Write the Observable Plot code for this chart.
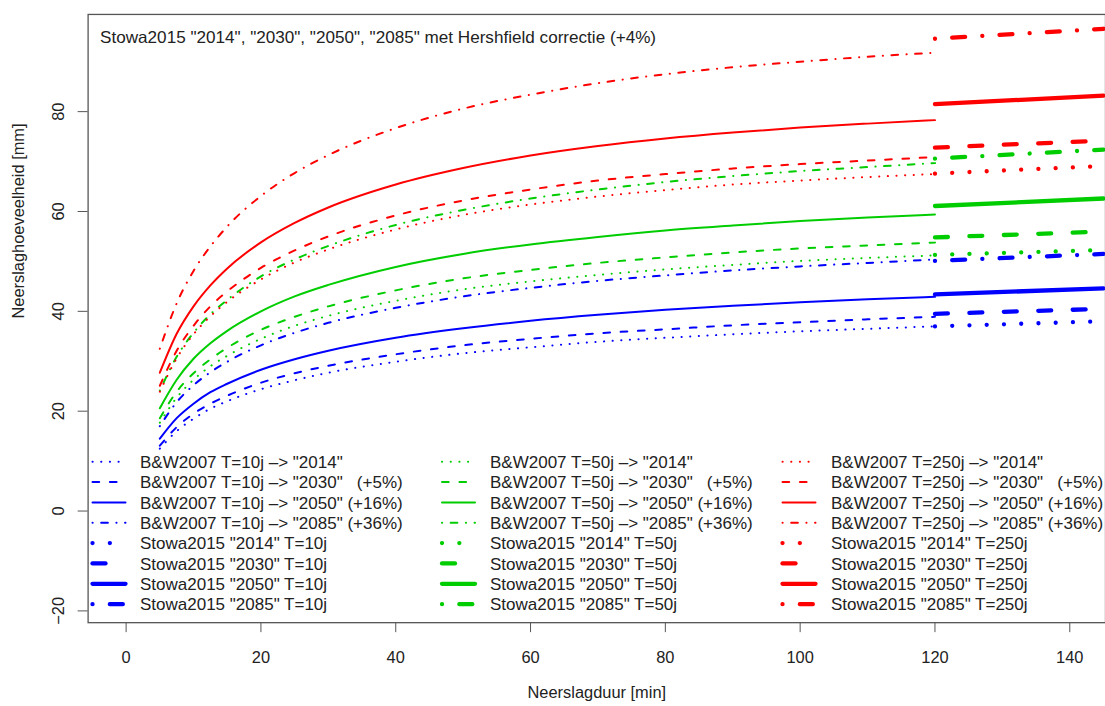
<!DOCTYPE html>
<html><head><meta charset="utf-8">
<script src="https://cdn.jsdelivr.net/npm/d3@7"></script>
<script src="https://cdn.jsdelivr.net/npm/@observablehq/plot@0.6"></script>
<style>
html,body{margin:0;padding:0;background:#fff;overflow:hidden;width:1105px;height:706px}
#wrap{position:relative;width:1105px;height:706px;overflow:hidden}
#wrap svg{display:block}
#legend{position:absolute;left:0;top:0;pointer-events:none}
</style></head><body><div id="wrap"></div>
<script>
// ---- data ----
const duration = [5, 7.5, 10, 12.5, 15, 20, 25, 30, 40, 50, 60, 70, 80, 90, 100, 110, 120];
const bw10_2014 = [12.5, 16.0, 18.5, 20.5, 22.0, 24.4, 26.2, 27.7, 29.9, 31.6, 32.8, 33.9, 34.7, 35.4, 36.0, 36.5, 37.0];
const bw10_2030 = [13.1, 16.8, 19.5, 21.5, 23.1, 25.7, 27.6, 29.1, 31.4, 33.2, 34.5, 35.6, 36.4, 37.2, 37.8, 38.4, 38.9];
const bw10_2050 = [14.5, 18.6, 21.5, 23.8, 25.5, 28.3, 30.4, 32.1, 34.7, 36.6, 38.1, 39.3, 40.3, 41.1, 41.8, 42.4, 42.9];
const bw10_2085 = [17.0, 21.8, 25.2, 27.8, 29.9, 33.2, 35.7, 37.7, 40.7, 43.0, 44.7, 46.1, 47.2, 48.2, 49.0, 49.7, 50.4];
const bw50_2014 = [17.7, 22.7, 26.3, 29.0, 31.1, 34.5, 37.1, 39.1, 42.1, 44.4, 46.0, 47.3, 48.4, 49.3, 50.1, 50.7, 51.2];
const bw50_2030 = [18.6, 23.9, 27.6, 30.4, 32.7, 36.3, 38.9, 41.0, 44.2, 46.6, 48.3, 49.7, 50.8, 51.8, 52.6, 53.2, 53.8];
const bw50_2050 = [20.6, 26.3, 30.5, 33.6, 36.1, 40.0, 43.0, 45.3, 48.9, 51.5, 53.4, 54.9, 56.2, 57.2, 58.1, 58.8, 59.4];
const bw50_2085 = [24.1, 30.9, 35.7, 39.4, 42.3, 47.0, 50.4, 53.1, 57.3, 60.3, 62.6, 64.4, 65.9, 67.1, 68.1, 68.9, 69.7];
const bw250_2014 = [23.9, 30.6, 35.4, 39.0, 41.9, 46.4, 49.8, 52.4, 56.4, 59.3, 61.4, 63.0, 64.3, 65.4, 66.2, 66.9, 67.5];
const bw250_2030 = [25.1, 32.1, 37.1, 41.0, 44.0, 48.7, 52.2, 55.0, 59.2, 62.2, 64.4, 66.2, 67.5, 68.6, 69.5, 70.2, 70.9];
const bw250_2050 = [27.7, 35.5, 41.0, 45.2, 48.6, 53.8, 57.7, 60.8, 65.4, 68.7, 71.2, 73.1, 74.6, 75.8, 76.8, 77.6, 78.3];
const bw250_2085 = [32.5, 41.6, 48.1, 53.0, 57.0, 63.1, 67.7, 71.3, 76.7, 80.6, 83.4, 85.7, 87.5, 88.9, 90.0, 91.0, 91.8];

const stowaDuration = [120, 145];
const stowa10_2014 = [37.0, 38.0];
const stowa10_2030 = [39.5, 40.5];
const stowa10_2050 = [43.4, 44.6];
const stowa10_2085 = [50.1, 51.5];
const stowa50_2014 = [51.3, 52.3];
const stowa50_2030 = [54.8, 56.0];
const stowa50_2050 = [61.1, 62.6];
const stowa50_2085 = [70.6, 72.4];
const stowa250_2014 = [67.6, 69.1];
const stowa250_2030 = [72.8, 74.2];
const stowa250_2050 = [81.5, 83.2];
const stowa250_2085 = [94.6, 96.6];

const xTicks = [0, 20, 40, 60, 80, 100, 120, 140];
const yTicks = [-20, 0, 20, 40, 60, 80];

const legend10 = ['B&W2007 T=10j –> "2014"', 'B&W2007 T=10j –> "2030"   (+5%)', 'B&W2007 T=10j –> "2050" (+16%)', 'B&W2007 T=10j –> "2085" (+36%)',
  'Stowa2015 "2014" T=10j', 'Stowa2015 "2030" T=10j', 'Stowa2015 "2050" T=10j', 'Stowa2015 "2085" T=10j'];
const legend50 = ['B&W2007 T=50j –> "2014"', 'B&W2007 T=50j –> "2030"   (+5%)', 'B&W2007 T=50j –> "2050" (+16%)', 'B&W2007 T=50j –> "2085" (+36%)',
  'Stowa2015 "2014" T=50j', 'Stowa2015 "2030" T=50j', 'Stowa2015 "2050" T=50j', 'Stowa2015 "2085" T=50j'];
const legend250 = ['B&W2007 T=250j –> "2014"', 'B&W2007 T=250j –> "2030"   (+5%)', 'B&W2007 T=250j –> "2050" (+16%)', 'B&W2007 T=250j –> "2085" (+36%)',
  'Stowa2015 "2014" T=250j', 'Stowa2015 "2030" T=250j', 'Stowa2015 "2050" T=250j', 'Stowa2015 "2085" T=250j'];

const title = 'Stowa2015 "2014", "2030", "2050", "2085" met Hershfield correctie (+4%)';
const xLabel = "Neerslagduur [min]";
const yLabel = "Neerslaghoeveelheid [mm]";

// ---- styles ----
const BLUE = "#0000ff", GREEN = "#00cd00", RED = "#ff0000";
const THIN = 2, THICK = 4.3;
const FONT = "'Liberation Sans', Arial, Helvetica, sans-serif";
const thinDash = {dotted: "0.17,8.5", dashed: "6.7,10.7", solid: null, dotdash: "0.17,8.5,6.7,8.5"};
const thickDash = {dotted: "0.03,17.3", dashed: "13,21.6", solid: null, dotdash: "0.03,17.3,13,17.3"};
const scen = ["dotted", "dashed", "solid", "dotdash"];

const groups = [
  {color: BLUE, bw: [bw10_2014, bw10_2030, bw10_2050, bw10_2085], st: [stowa10_2014, stowa10_2030, stowa10_2050, stowa10_2085], labels: legend10},
  {color: GREEN, bw: [bw50_2014, bw50_2030, bw50_2050, bw50_2085], st: [stowa50_2014, stowa50_2030, stowa50_2050, stowa50_2085], labels: legend50},
  {color: RED, bw: [bw250_2014, bw250_2030, bw250_2050, bw250_2085], st: [stowa250_2014, stowa250_2030, stowa250_2050, stowa250_2085], labels: legend250}
];

const lineMarks = [];
for (const g of groups) {
  g.bw.forEach((vals, i) => {
    const data = duration.map((d, k) => ({d, v: vals[k]}));
    lineMarks.push(Plot.line(data, {x: "d", y: "v", stroke: g.color, strokeWidth: THIN, curve: "monotone-x",
      strokeDasharray: thinDash[scen[i]], strokeLinecap: "round", strokeLinejoin: "round"}));
  });
}
for (const g of groups) {
  g.st.forEach((vals, i) => {
    const data = stowaDuration.map((d, k) => ({d, v: vals[k]}));
    lineMarks.push(Plot.line(data, {x: "d", y: "v", stroke: g.color, strokeWidth: THICK,
      strokeDasharray: thickDash[scen[i]], strokeLinecap: "round", strokeLinejoin: "round", clip: true}));
  });
}

const fmt = d => d < 0 ? "\u2212" + Math.abs(d) : String(d);

const chart = Plot.plot({
  width: 1110, height: 706,
  marginLeft: 88, marginRight: 0, marginTop: 14, marginBottom: 81,
  x: {domain: [-5.64, 145.3]},
  y: {domain: [-22.36, 99.47]},
  style: {fontFamily: FONT, fontSize: "16.5px", color: "#222", background: "#fff"},
  marks: [
    Plot.axisX({ticks: xTicks, tickSize: 10, tickPadding: 19, stroke: "#555", label: null, tickFormat: fmt}),
    Plot.axisY({ticks: yTicks, tickSize: 10, tickFormat: () => "", label: null, stroke: "#555"}),
    Plot.text(yTicks, {y: d => d, text: fmt, frameAnchor: "left", dx: -30, rotate: -90, textAnchor: "middle", lineAnchor: "middle", fill: "#222"}),
    Plot.text([xLabel], {text: d => d, frameAnchor: "bottom", dy: 70, lineAnchor: "middle", fill: "#222"}),
    Plot.text([yLabel], {text: d => d, frameAnchor: "left", dx: -70, rotate: -90, lineAnchor: "middle", fill: "#222"}),
    ...lineMarks,
    Plot.text([title], {text: d => d, frameAnchor: "top-left", dx: 12, dy: 23, textAnchor: "start", lineAnchor: "middle", fontSize: 17.2, fill: "#222"}),
    Plot.frame({stroke: "#555", strokeWidth: 1.3})
  ]
});
const wrap = document.getElementById("wrap");
wrap.appendChild(chart);

// ---- legend overlay (inside plot area, bottom) ----
const svg = d3.select(wrap).append("svg").attr("id", "legend").attr("width", 1105).attr("height", 706);
const colSampleX = [92.5, 442, 782.5], colTextX = [140, 490, 831];
const rowY0 = 461.7, rowStep = 20.35, segLen = 33;
groups.forEach((g, c) => {
  g.labels.forEach((lab, r) => {
    const y = rowY0 + r * rowStep;
    const thick = r >= 4;
    const dash = (thick ? thickDash : thinDash)[scen[r % 4]];
    const ln = svg.append("line").attr("x1", colSampleX[c]).attr("x2", colSampleX[c] + segLen)
      .attr("y1", y).attr("y2", y).attr("stroke", g.color).attr("stroke-width", thick ? THICK : THIN)
      .attr("stroke-linecap", "round");
    if (dash) ln.attr("stroke-dasharray", dash);
    svg.append("text").attr("x", colTextX[c]).attr("y", y).attr("dy", "0.36em")
      .attr("font-family", FONT).attr("font-size", 17)
      .attr("fill", "#222").style("white-space", "pre").text(lab);
  });
});
</script></body></html>
